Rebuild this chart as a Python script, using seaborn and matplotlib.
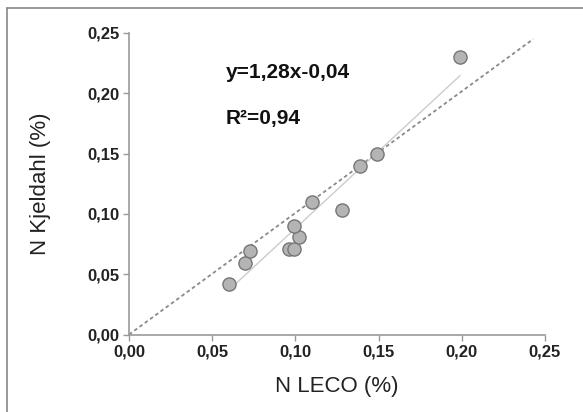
import numpy as np
import pandas as pd
import seaborn as sns
import matplotlib.pyplot as plt
from matplotlib.lines import Line2D
from matplotlib.ticker import FuncFormatter

# values
n_leco = [0.060, 0.070, 0.073, 0.096, 0.099, 0.102, 0.099, 0.110, 0.128, 0.139, 0.149, 0.199]
n_kjeldahl = [0.042, 0.059, 0.069, 0.071, 0.071, 0.081, 0.090, 0.110, 0.103, 0.140, 0.150, 0.230]
slope = 1.28
intercept = -0.04
ticks = [0.00, 0.05, 0.10, 0.15, 0.20, 0.25]

df = pd.DataFrame({'LECO': n_leco, 'Kjeldahl': n_kjeldahl})

sns.set_style('white')
plt.rcParams['font.family'] = ['Liberation Sans', 'DejaVu Sans']

fig = plt.figure(figsize=(5.83, 4.12), dpi=100)
ax = fig.add_axes([0.2213, 0.188, 0.7135, 0.732])

# 1:1 line
ax.plot([0, 0.243], [0, 0.245], linestyle=(0, (2, 1.6)), color='#8a8a8a', linewidth=1.3, zorder=1)

# regression line
xs = np.array([min(n_leco), max(n_leco)])
ax.plot(xs, slope * xs + intercept, color='#cccccc', linewidth=1.0, zorder=1)

sns.scatterplot(data=df, x='LECO', y='Kjeldahl', ax=ax, s=90, color='#b4b4b4',
                edgecolor='#767676', linewidth=1.0, zorder=3)

ax.set_xlim(0, 0.25)
ax.set_ylim(0, 0.25)
ax.set_xticks(ticks)
ax.set_yticks(ticks)
fmt = FuncFormatter(lambda v, p: ('%.2f' % v).replace('.', ','))
ax.xaxis.set_major_formatter(fmt)
ax.yaxis.set_major_formatter(fmt)
for lab in ax.get_xticklabels() + ax.get_yticklabels():
    lab.set_fontweight('bold')
    lab.set_fontsize(12)
    lab.set_color('#222222')
ax.tick_params(axis='both', direction='out', length=4, width=1, color='#999999', pad=3,
               bottom=True, left=True)

for side in ['top', 'right']:
    ax.spines[side].set_visible(False)
for side in ['left', 'bottom']:
    ax.spines[side].set_color('#999999')
    ax.spines[side].set_linewidth(1.2)

ax.set_xlabel('N LECO (%)', fontsize=16, color='#222222', labelpad=12)
ax.set_ylabel('N Kjeldahl (%)', fontsize=16, color='#222222', labelpad=26)

ax.text(0.058, 0.2176, 'y=1,28x-0,04', fontsize=15, fontweight='bold', va='center', color='#111111')
ax.text(0.058, 0.179, 'R²=0,94', fontsize=15, fontweight='bold', va='center', color='#111111')

# outer frame (left and top edge visible)
fig.add_artist(Line2D([7 / 583, 7 / 583], [0, 1 - 8 / 412], transform=fig.transFigure, color='#888888', linewidth=1.2))
fig.add_artist(Line2D([7 / 583, 1], [1 - 8 / 412, 1 - 8 / 412], transform=fig.transFigure, color='#888888', linewidth=1.2))

fig.savefig('out.png', dpi=100)
